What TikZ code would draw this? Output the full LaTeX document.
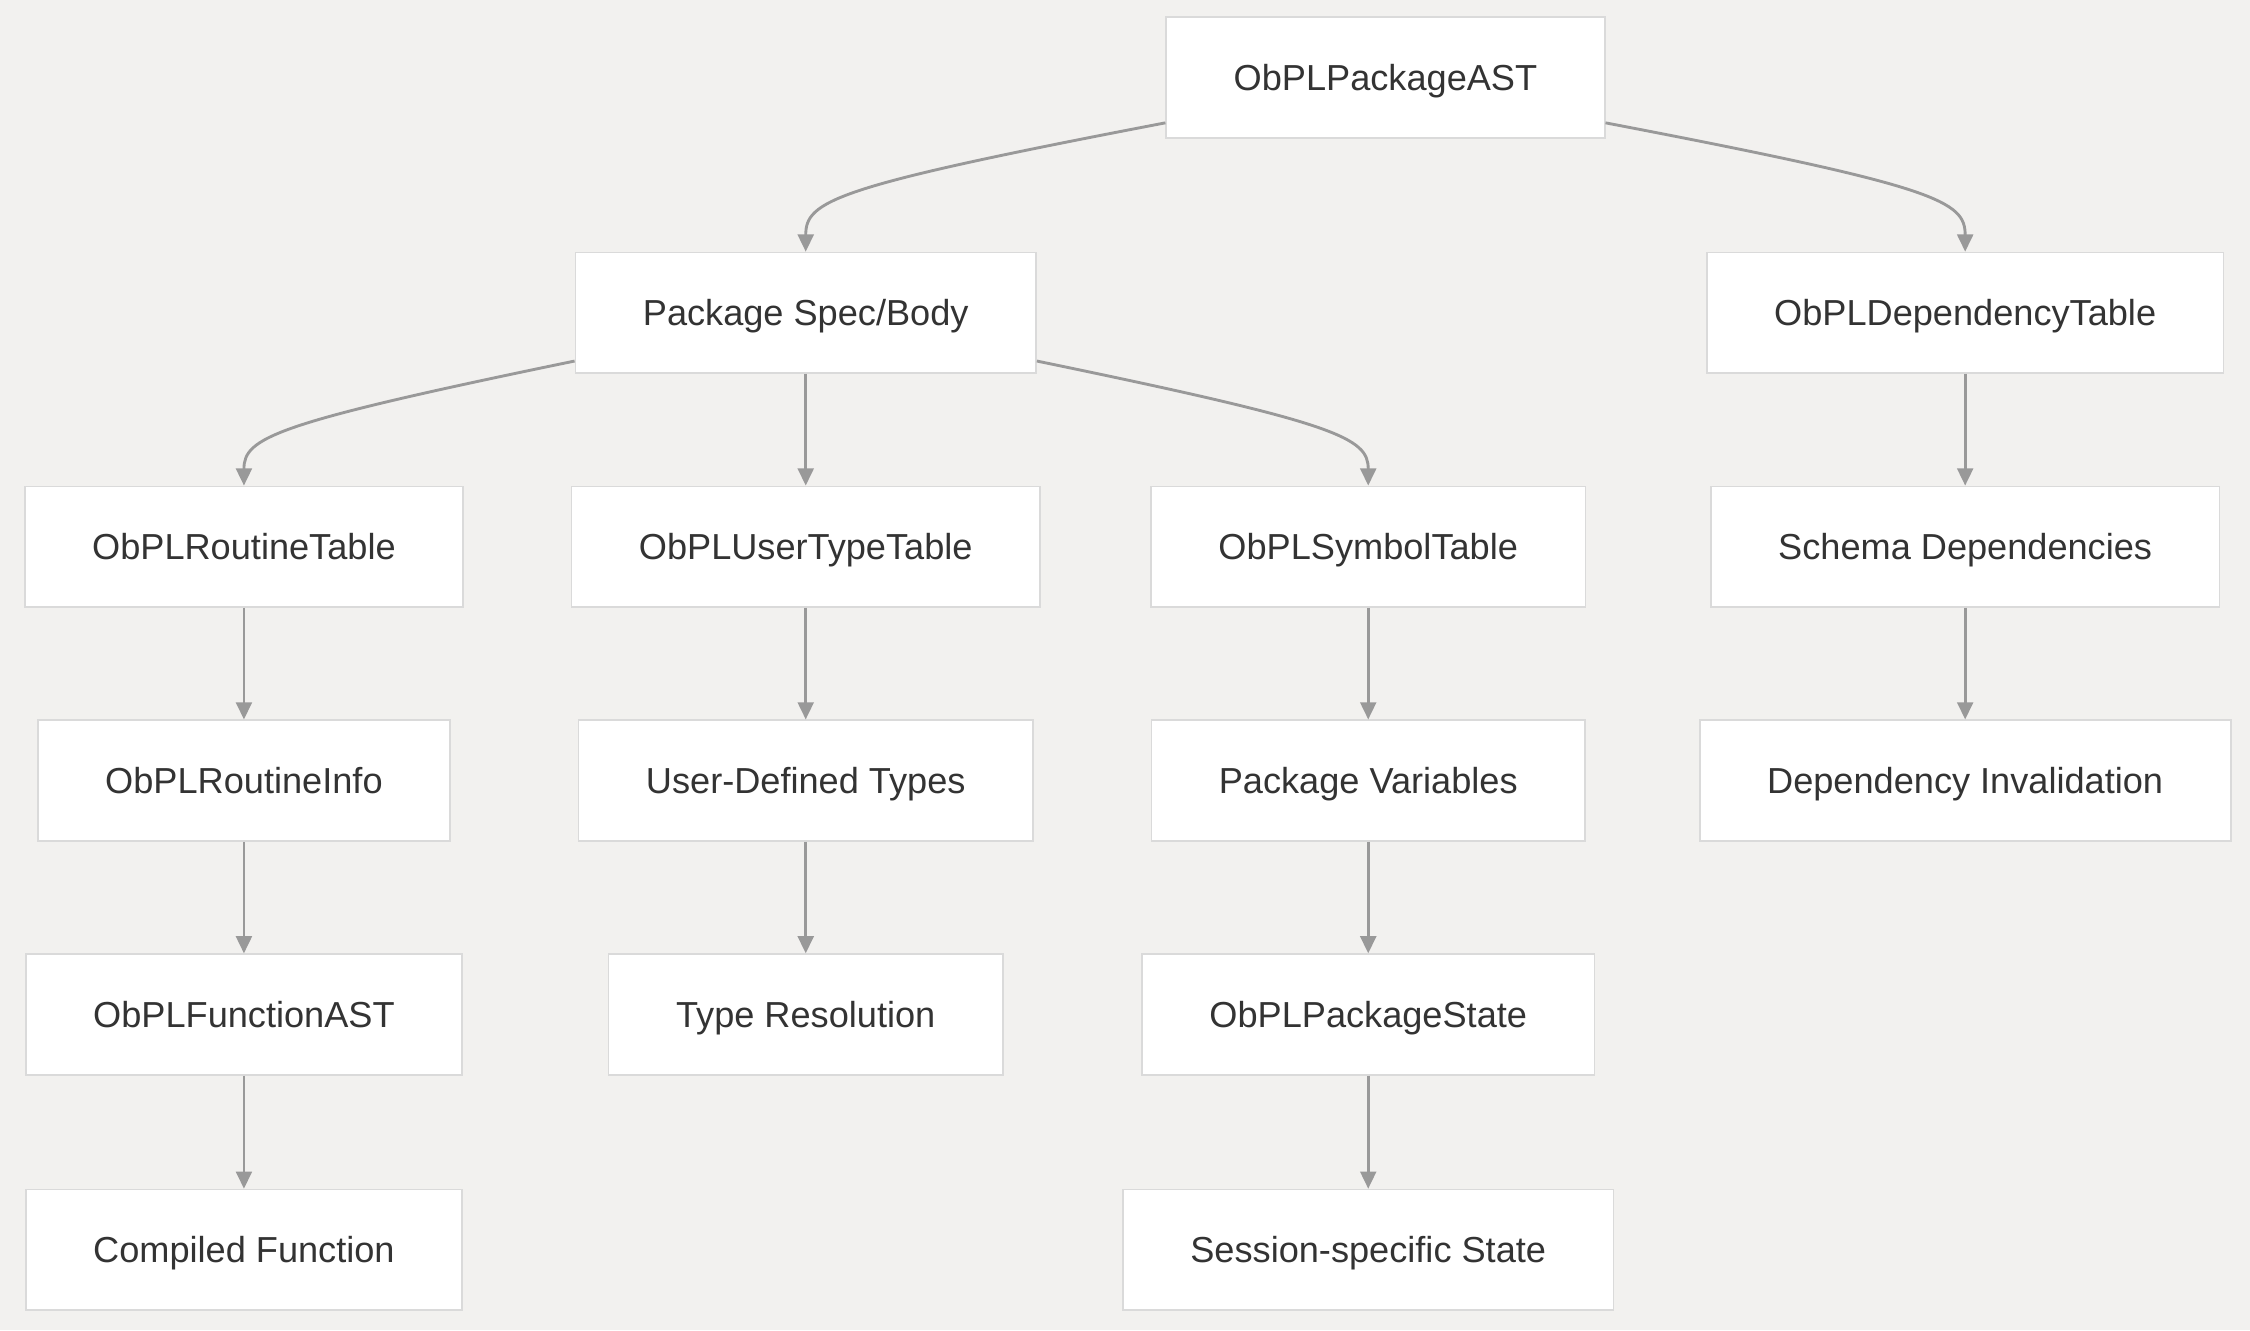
\documentclass[tikz,border=0pt]{standalone}
\usepackage{fontspec}
\setmainfont{Liberation Sans}
\usepackage{xcolor}
\usepackage{tikz}
\usetikzlibrary{arrows.meta}
\definecolor{bgc}{HTML}{F2F1EF}
\definecolor{boxline}{HTML}{DADADA}
\definecolor{edgec}{HTML}{999999}
\definecolor{txt}{HTML}{333333}

\begin{document}
\begin{tikzpicture}[x=0.5pt,y=-0.5pt,>={Triangle[length=6pt,width=5.5pt]},
  box/.style={draw=boxline,line width=0.6pt,fill=white,text=txt,inner xsep=23.5pt,
    text height=11pt,text depth=2pt,minimum height=42pt,font=\fontsize{12.6}{15}\selectfont},
  edge/.style={draw=edgec,line width=1pt,->}]
\fill[bgc] (0,0) rectangle (1568,927);
% level 0 and 1
\node[box] (ast) at (965.5,54) {ObPLPackageAST};
\node[box] (spec) at (561.5,218) {Package Spec/Body};
\node[box] (dep) at (1369.5,218) {ObPLDependencyTable};
% level 2
\node[box] (rtab) at (170,381) {ObPLRoutineTable};
\node[box] (utab) at (561.5,381) {ObPLUserTypeTable};
\node[box] (stab) at (953.5,381) {ObPLSymbolTable};
\node[box] (schema) at (1369.5,381) {Schema Dependencies};
% level 3
\node[box] (rinfo) at (170,544) {ObPLRoutineInfo};
\node[box] (udt) at (561.5,544) {User-Defined Types};
\node[box] (pvar) at (953.5,544) {Package Variables};
\node[box] (inval) at (1369.5,544) {Dependency Invalidation};
% level 4 and 5
\node[box] (fast) at (170,707) {ObPLFunctionAST};
\node[box] (tres) at (561.5,707) {Type Resolution};
\node[box] (pstate) at (953.5,707) {ObPLPackageState};
\node[box] (cfun) at (170,871) {Compiled Function};
\node[box] (sstate) at (953.5,871) {Session-specific State};

\draw[edge] ([yshift=5.5pt]ast.south west) .. controls (580,130) and (561.5,140) .. (spec.north);
\draw[edge] ([yshift=5.5pt]ast.south east) .. controls (1351,130) and (1369.5,140) .. (dep.north);
\draw[edge] ([yshift=4.5pt]spec.south west) .. controls (190,295) and (170,305) .. (rtab.north);
\draw[edge] ([yshift=4.5pt]spec.south east) .. controls (933,295) and (953.5,305) .. (stab.north);
\draw[edge] (spec) -- (utab);
\draw[edge] (dep) -- (schema);
\draw[edge] (schema) -- (inval);
\draw[edge] (rtab) -- (rinfo);
\draw[edge] (rinfo) -- (fast);
\draw[edge] (fast) -- (cfun);
\draw[edge] (utab) -- (udt);
\draw[edge] (udt) -- (tres);
\draw[edge] (stab) -- (pvar);
\draw[edge] (pvar) -- (pstate);
\draw[edge] (pstate) -- (sstate);
\end{tikzpicture}
\end{document}
